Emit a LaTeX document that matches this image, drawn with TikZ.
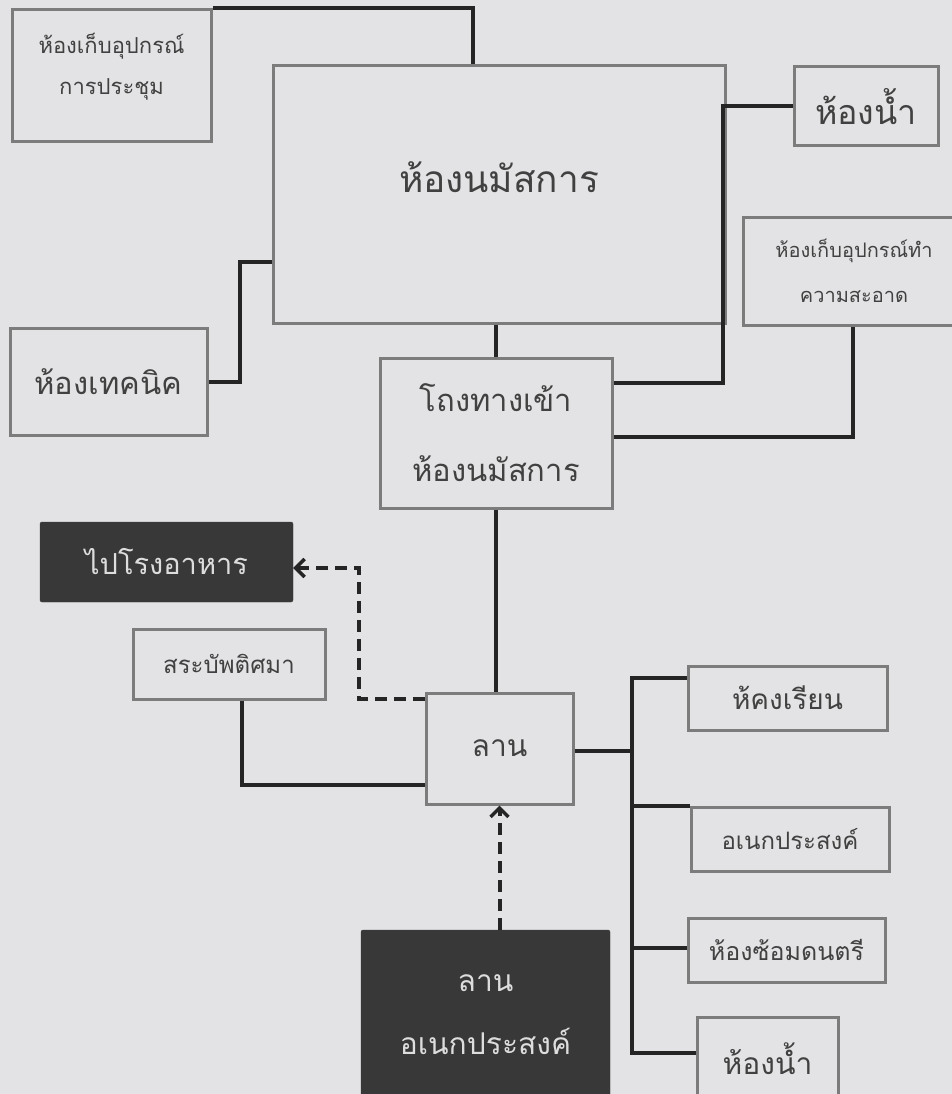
\documentclass[tikz,border=0pt]{standalone}
\usepackage{fontspec}
\usetikzlibrary{arrows.meta,calc}
\newfontfamily\thai[Script=Thai]{Loma}
\newcommand\thsz[2]{\thai\fontsize{#1}{#2}\selectfont}
\definecolor{bgpaper}{HTML}{E3E3E5}
\definecolor{boxline}{HTML}{7C7C7C}
\definecolor{boxtext}{HTML}{414141}
\definecolor{wire}{HTML}{252525}
\definecolor{darkfill}{HTML}{383838}
\definecolor{darktext}{HTML}{DDDDDD}
\tikzset{
  room/.style={draw=boxline, line width=3pt, inner sep=0pt, align=center,
    text=boxtext, minimum width=#1},
  darkroom/.style={fill=darkfill, draw=darkfill, rounded corners=2pt,
    inner sep=0pt, align=center, text=darktext, minimum width=#1},
  wireline/.style={draw=wire, line width=4pt, line join=miter},
  dashwire/.style={draw=wire, line width=4pt, dash pattern=on 12pt off 7pt,
    -{Straight Barb[length=9pt,width=18pt,line width=3.5pt]}}
}
\begin{document}
\begin{tikzpicture}[x=1pt,y=-1pt]
\useasboundingbox (0,0) rectangle (952,1094);
\clip (0,0) rectangle (952,1094);
\fill[bgpaper] (0,0) rectangle (952,1094);

% rooms around the worship hall
\node[room=199pt, minimum height=132pt, font=\thsz{22}{43}] (meet) at (111.5,76)
  {\raisebox{24pt}{\shortstack{ห้องเก็บอุปกรณ์\\[17pt]การประชุม}}};
\node[room=452pt, minimum height=257pt, font=\thsz{37}{44}] (hall) at (499,194.5)
  {\raisebox{34pt}{ห้องนมัสการ}};
\node[room=144pt, minimum height=79pt, font=\thsz{34}{40}] (wcA) at (866,106.5)
  {ห้องน้ำ};
\node[room=222pt, minimum height=108pt, font=\thsz{20}{45}] (clean) at (854,271)
  {ห้องเก็บอุปกรณ์ทำ\\ความสะอาด};
\node[room=197pt, minimum height=107pt, font=\thsz{31}{40}] (tech) at (108.5,381.5)
  {ห้องเทคนิค};
\node[room=232pt, minimum height=150pt, font=\thsz{31}{70}] (foyer) at (496,433)
  {โถงทางเข้า\\ห้องนมัสการ};

% courtyard and its neighbours
\node[darkroom=253pt, minimum height=80pt, font=\thsz{29}{36}] (canteen) at (166.5,562)
  {ไปโรงอาหาร};
\node[room=192pt, minimum height=70pt, font=\thsz{24}{30}] (pool) at (229,664)
  {สระบัพติศมา};
\node[room=147pt, minimum height=111pt, font=\thsz{30}{36}] (lan) at (499.5,748.5)
  {ลาน};
\node[room=199pt, minimum height=64pt, font=\thsz{28}{34}] (class) at (787.5,698)
  {ห้คงเรียน};
\node[room=198pt, minimum height=64pt, font=\thsz{24}{30}] (multi) at (790,839)
  {อเนกประสงค์};
\node[room=197pt, minimum height=64pt, font=\thsz{25}{30}] (music) at (786.5,950)
  {ห้องซ้อมดนตรี};
\node[room=141pt, minimum height=83pt, font=\thsz{30}{36}] (wcB) at (767.5,1058.5)
  {ห้องน้ำ};
\node[darkroom=249pt, minimum height=170pt, font=\thsz{30}{63}] (plaza) at (485.5,1015)
  {ลาน\\อเนกประสงค์};

% junction points
\coordinate (topx) at (473,0);
\coordinate (techx) at (240,262);
\coordinate (wcx) at (723,0);
\coordinate (dashx) at (359,568);
\coordinate (bus) at (632,0);
\coordinate (b1) at ([yshift=20pt]class.west);
\coordinate (b2) at ([yshift=33pt]multi.west);
\coordinate (b3) at ([yshift=2pt]music.west);
\coordinate (b4) at ([yshift=5.5pt]wcB.west);

% solid connectors
\draw[wireline] (meet.north east) -| (topx |- hall.north);
\draw[wireline] (tech.east) -| (techx) -- (techx -| hall.west);
\draw[wireline] (foyer.north |- hall.south) -- (foyer.north);
\draw[wireline] ([yshift=50pt]foyer.east) -| (wcx |- wcA.west) -- (wcA.west);
\draw[wireline] ([yshift=-4pt]foyer.east) -| ([xshift=-1pt]clean.south);
\draw[wireline] (foyer.south) -- (foyer.south |- lan.north);
\draw[wireline] ([xshift=13pt]pool.south) |- ([yshift=-36.5pt]lan.west);
\draw[wireline] ([yshift=-2pt]lan.east) -- ([yshift=-2pt]lan.east -| bus);
\draw[wireline] (b1) -| (bus |- b4) -- (b4);
\draw[wireline] (bus |- b2) -- (b2);
\draw[wireline] (bus |- b3) -- (b3);

% dashed connectors
\draw[dashwire] ([yshift=49.5pt]lan.west) -| (dashx) -- (dashx -| canteen.east);
\draw[dashwire] (lan.south |- plaza.north) -- (lan.south);
\end{tikzpicture}
\end{document}
